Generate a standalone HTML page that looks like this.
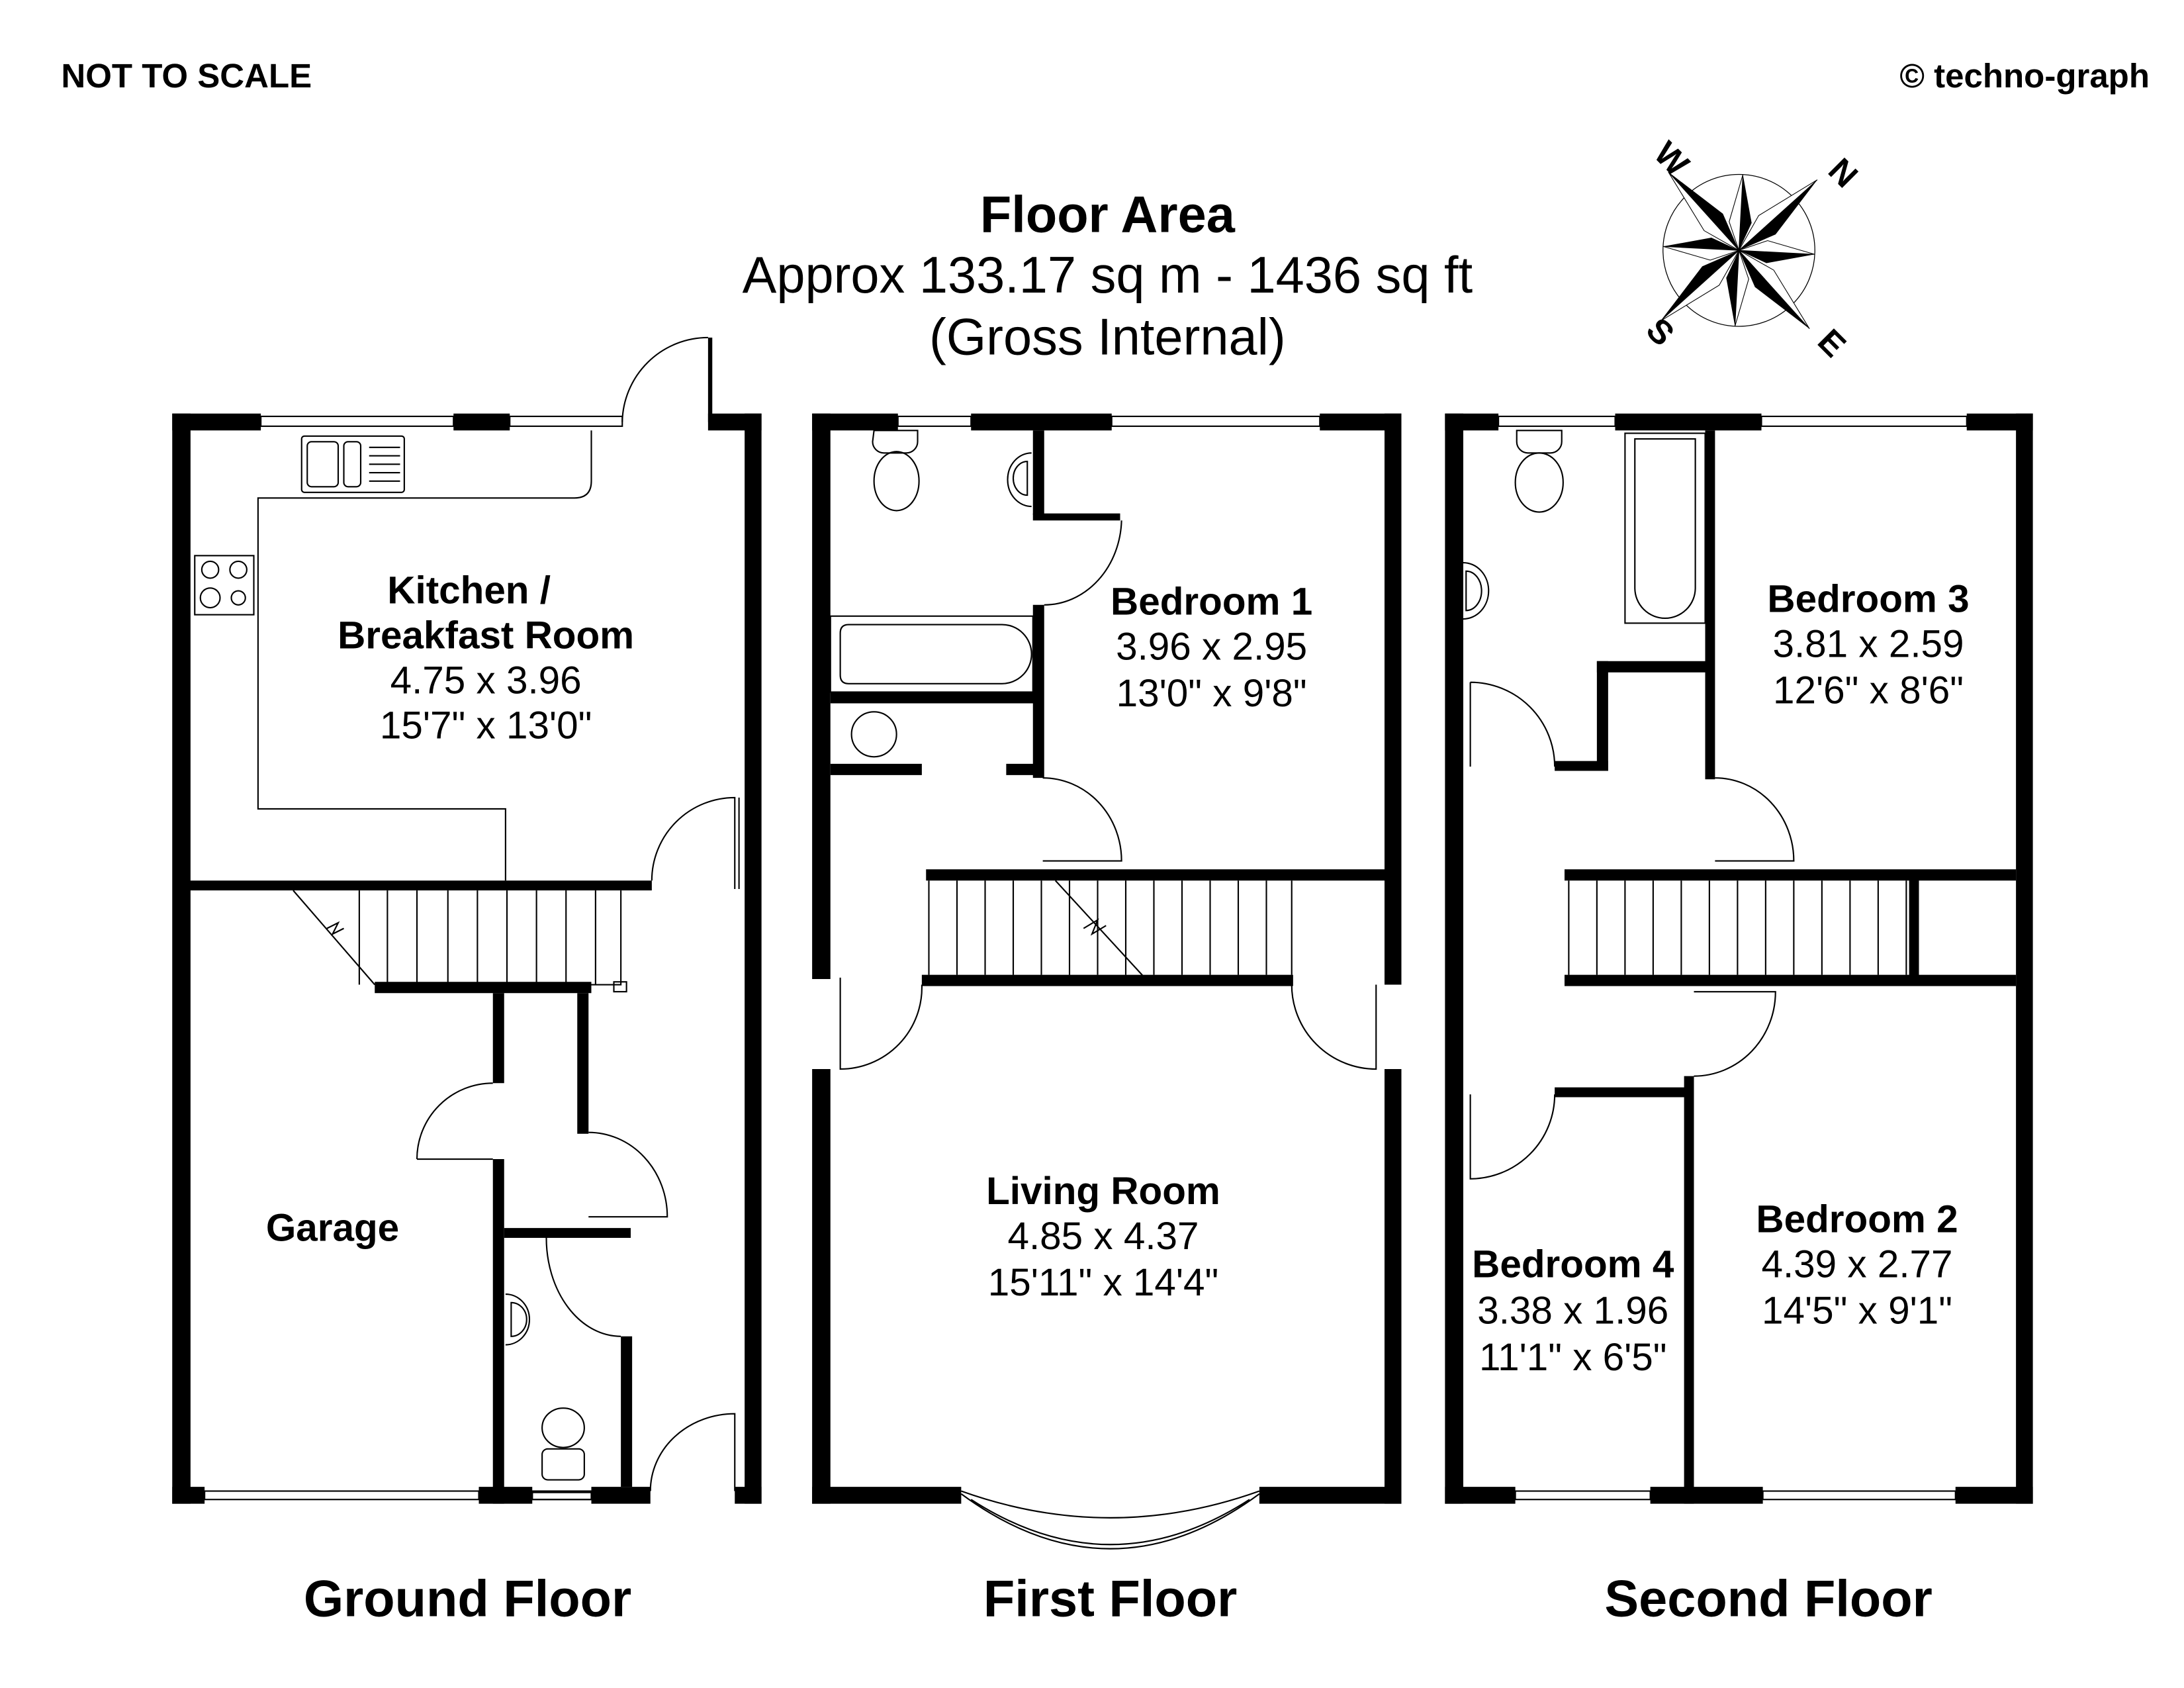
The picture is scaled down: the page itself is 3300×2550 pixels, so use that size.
<!DOCTYPE html>
<html><head><meta charset="utf-8"><style>
html,body{margin:0;padding:0;background:#fff}
svg{display:block}
text{font-family:"Liberation Sans",Arial,sans-serif;fill:#000}
.b{font-weight:bold}
</style></head><body>
<svg width="3300" height="2550" viewBox="0 0 1552 1200" xmlns="http://www.w3.org/2000/svg">
<defs>
<g id="rl"><polygon points="0,0 0,-75 9,-27" fill="#000"/><polygon points="0,0 0,-75 -9,-27" fill="#fff" stroke="#000" stroke-width="0.5"/></g>
<g id="rs"><polygon points="0,0 0,-54 8,-20" fill="#000"/><polygon points="0,0 0,-54 -8,-20" fill="#fff" stroke="#000" stroke-width="0.5"/></g>
</defs>
<rect width="1552" height="1200" fill="#fff"/>
<text x="43" y="62" class="b" font-size="24">NOT TO SCALE</text>
<text x="1528" y="62" class="b" font-size="24" text-anchor="end">© techno-graph</text>
<text x="787" y="165" class="b" font-size="36.5" text-anchor="middle">Floor Area</text>
<text x="787" y="208" font-size="36.5" text-anchor="middle">Approx 133.17 sq m - 1436 sq ft</text>
<text x="787" y="252" font-size="36.5" text-anchor="middle">(Gross Internal)</text>

<!-- compass -->
<g transform="translate(1236,178)">
<circle r="54" fill="none" stroke="#000" stroke-width="0.6"/>
<g transform="rotate(3)"><use href="#rs"/><use href="#rs" transform="rotate(90)"/><use href="#rs" transform="rotate(180)"/><use href="#rs" transform="rotate(270)"/></g>
<g transform="rotate(48)"><use href="#rl"/><use href="#rl" transform="rotate(90)"/><use href="#rl" transform="rotate(180)"/><use href="#rl" transform="rotate(270)"/></g>
</g>
<text x="1188" y="121" class="b" font-size="24" transform="rotate(45 1188 113)" text-anchor="middle">W</text>
<text x="1310" y="131" class="b" font-size="24" transform="rotate(45 1310 123)" text-anchor="middle">N</text>
<text x="1180" y="244" class="b" font-size="24" transform="rotate(45 1180 236)" text-anchor="middle">S</text>
<text x="1302" y="252" class="b" font-size="24" transform="rotate(45 1302 244)" text-anchor="middle">E</text>

<g fill="#000">
<!-- GROUND FLOOR walls -->
<rect x="122" y="294" width="63" height="12"/>
<rect x="322" y="294" width="40" height="12"/>
<rect x="503" y="294" width="38" height="12"/>
<rect x="503" y="240" width="3" height="60"/>
<rect x="122" y="294" width="13" height="775"/>
<rect x="529" y="294" width="12" height="775"/>
<rect x="122" y="1057" width="23" height="12"/>
<rect x="340" y="1057" width="38" height="12"/>
<rect x="420" y="1057" width="42" height="12"/>
<rect x="522" y="1057" width="19" height="12"/>
<rect x="134" y="626" width="329" height="7"/>
<rect x="266" y="698" width="154" height="8"/>
<rect x="350" y="706" width="8" height="64"/>
<rect x="350" y="824" width="8" height="245"/>
<rect x="410" y="706" width="8" height="100"/>
<rect x="358" y="873" width="90" height="7"/>
<rect x="441" y="950" width="8" height="107"/>
<!-- FIRST FLOOR walls -->
<rect x="577" y="294" width="61" height="12"/>
<rect x="690" y="294" width="100" height="12"/>
<rect x="938" y="294" width="58" height="12"/>
<rect x="577" y="294" width="13" height="402"/>
<rect x="577" y="760" width="13" height="309"/>
<rect x="984" y="294" width="12" height="406"/>
<rect x="984" y="760" width="12" height="309"/>
<rect x="577" y="1057" width="106" height="12"/>
<rect x="895" y="1057" width="101" height="12"/>
<rect x="734" y="306" width="8" height="60"/>
<rect x="734" y="365" width="62" height="5"/>
<rect x="734" y="430" width="8" height="123"/>
<rect x="590" y="492" width="145" height="8"/>
<rect x="590" y="543" width="65" height="8"/>
<rect x="715" y="543" width="20" height="8"/>
<rect x="658" y="618" width="328" height="8"/>
<rect x="655" y="693" width="264" height="8"/>
<!-- SECOND FLOOR walls -->
<rect x="1027" y="294" width="38" height="12"/>
<rect x="1148" y="294" width="104" height="12"/>
<rect x="1398" y="294" width="47" height="12"/>
<rect x="1027" y="294" width="13" height="775"/>
<rect x="1433" y="294" width="12" height="775"/>
<rect x="1027" y="1057" width="50" height="12"/>
<rect x="1173" y="1057" width="80" height="12"/>
<rect x="1390" y="1057" width="55" height="12"/>
<rect x="1212" y="306" width="7" height="248"/>
<rect x="1135" y="470" width="80" height="8"/>
<rect x="1135" y="470" width="8" height="78"/>
<rect x="1105" y="541" width="38" height="7"/>
<rect x="1112" y="618" width="321" height="8"/>
<rect x="1112" y="693" width="321" height="8"/>
<rect x="1357" y="620" width="7" height="75"/>
<rect x="1105" y="773" width="97" height="7"/>
<rect x="1197" y="765" width="7" height="304"/>
</g>

<g fill="none" stroke="#000" stroke-width="1">
<rect x="185" y="296" width="137" height="7"/>
<rect x="362" y="296" width="80" height="7"/>
<rect x="145" y="1060" width="195" height="6"/>
<rect x="378" y="1060" width="42" height="6"/>
<path d="M442,300 A61,61 0 0 1 503,240"/>
<path d="M420,306 V342 Q420,354 408,354 H183 V575 H359 V626"/>
<rect x="214" y="310" width="73" height="40" rx="2"/>
<rect x="218" y="314" width="22" height="32" rx="3"/><rect x="244" y="314" width="12" height="32" rx="3"/>
<path d="M262,318h22M262,324h22M262,330h22M262,336h22M262,342h22"/>
<rect x="138" y="395" width="42" height="42"/>
<circle cx="149" cy="405" r="6"/><circle cx="169" cy="405" r="6"/><circle cx="149" cy="425" r="7"/><circle cx="169" cy="425" r="5"/>
<path d="M463,626 A59,59 0 0 1 522,567 V632"/>
<path d="M525,567 V632"/>
<path d="M208,633 L266,700 M255,633 V700 M275,633 V700 M296,633 V700 M318,633 V700 M339,633 V700 M360,633 V700 M381,633 V700 M402,633 V700 M423,633 V700 M441,633 V700 H420"/>
<rect x="436" y="698" width="9" height="7"/>
<path d="M232,660 l8,-4 l-4,8 l8,-4"/>
<path d="M296,824 A54,54 0 0 1 350,770 M296,824 H350"/>
<path d="M418,805 A56,60 0 0 1 474,865 H418"/>
<path d="M388,880 A53,70 0 0 0 441,950"/>
<path d="M462,1060 A60,55 0 0 1 522,1005 V1060"/>
<path d="M359,920 A17,18 0 0 1 359,956"/><path d="M363,926 A11,12 0 0 1 363,950 Z"/>
<ellipse cx="400" cy="1015" rx="15" ry="14"/><rect x="385" y="1030" width="30" height="22" rx="4"/>
<rect x="378" y="1061" width="42" height="5"/>

<rect x="638" y="296" width="52" height="7"/>
<rect x="790" y="296" width="148" height="7"/>
<path d="M621,306 h31 v8 a8,8 0 0 1 -8,8 h-16 a8,8 0 0 1 -8,-8 z"/>
<ellipse cx="637" cy="342" rx="16" ry="21"/>
<path d="M733,322 A17,19 0 0 0 733,360"/><path d="M730,328 A10,12 0 0 0 730,352 Z"/>
<path d="M797,370 A55,62 0 0 1 742,430"/>
<rect x="590" y="438" width="144" height="54"/>
<path d="M603,444 H712 A21,21 0 0 1 712,486 H603 Q597,486 597,480 V450 Q597,444 603,444 Z"/>
<circle cx="621" cy="522" r="16"/>
<path d="M741,553 A56,59 0 0 1 797,612 H741"/>
<path d="M660,626 V693 M680,626 V693 M700,626 V693 M720,626 V693 M740,626 V693 M760,626 V693 M780,626 V693 M800,626 V693 M820,626 V693 M840,626 V693 M860,626 V693 M880,626 V693 M900,626 V693 M918,626 V693"/>
<path d="M750,626 L818,700 M770,660 l10,-6 l-4,10 l10,-6"/>
<path d="M597,695 V760 A58,58 0 0 0 655,700"/>
<path d="M978,700 V760 A60,60 0 0 1 918,700"/>
<path d="M683,1062 Q789,1140 895,1062 M690,1066 Q789,1130 888,1066 M683,1060 Q789,1098 895,1060"/>

<rect x="1065" y="296" width="83" height="7"/>
<rect x="1252" y="296" width="146" height="7"/>
<path d="M1078,306 h32 v8 a8,8 0 0 1 -8,8 h-16 a8,8 0 0 1 -8,-8 z"/>
<ellipse cx="1094" cy="343" rx="17" ry="21"/>
<path d="M1040,400 A18,20 0 0 1 1040,440"/><path d="M1042,406 A11,14 0 0 1 1042,434 Z"/>
<rect x="1155" y="308" width="57" height="135"/>
<path d="M1162,312 H1205 V418 A21,21 0 0 1 1162,418 Z"/>
<path d="M1045,485 V545 M1045,485 A60,60 0 0 1 1105,545"/>
<path d="M1219,553 A56,59 0 0 1 1275,612 H1219"/>
<path d="M1115,626 V693 M1135,626 V693 M1155,626 V693 M1175,626 V693 M1195,626 V693 M1215,626 V693 M1235,626 V693 M1255,626 V693 M1275,626 V693 M1295,626 V693 M1315,626 V693 M1335,626 V693 M1355,626 V693"/>
<path d="M1204,705 H1262 A58,60 0 0 1 1204,765"/>
<path d="M1045,778 V838 A60,60 0 0 0 1105,778"/>
<rect x="1077" y="1060" width="96" height="6"/>
<rect x="1253" y="1060" width="137" height="6"/>
</g>

<g font-size="27.5" text-anchor="middle">
<text x="333" y="429" class="b">Kitchen /</text>
<text x="345" y="461" class="b">Breakfast Room</text>
<text x="345" y="493">4.75 x 3.96</text>
<text x="345" y="525">15'7" x 13'0"</text>
<text x="236" y="882" class="b">Garage</text>
<text x="861" y="437" class="b">Bedroom 1</text>
<text x="861" y="469">3.96 x 2.95</text>
<text x="861" y="502">13'0" x 9'8"</text>
<text x="784" y="856" class="b">Living Room</text>
<text x="784" y="888">4.85 x 4.37</text>
<text x="784" y="921">15'11" x 14'4"</text>
<text x="1328" y="435" class="b">Bedroom 3</text>
<text x="1328" y="467">3.81 x 2.59</text>
<text x="1328" y="500">12'6" x 8'6"</text>
<text x="1320" y="876" class="b">Bedroom 2</text>
<text x="1320" y="908">4.39 x 2.77</text>
<text x="1320" y="941">14'5" x 9'1"</text>
<text x="1118" y="908" class="b">Bedroom 4</text>
<text x="1118" y="941">3.38 x 1.96</text>
<text x="1118" y="974">11'1" x 6'5"</text>
</g>
<g font-size="36.5" text-anchor="middle">
<text x="332" y="1149" class="b">Ground Floor</text>
<text x="789" y="1149" class="b">First Floor</text>
<text x="1257" y="1149" class="b">Second Floor</text>
</g>
</svg>
</body></html>
